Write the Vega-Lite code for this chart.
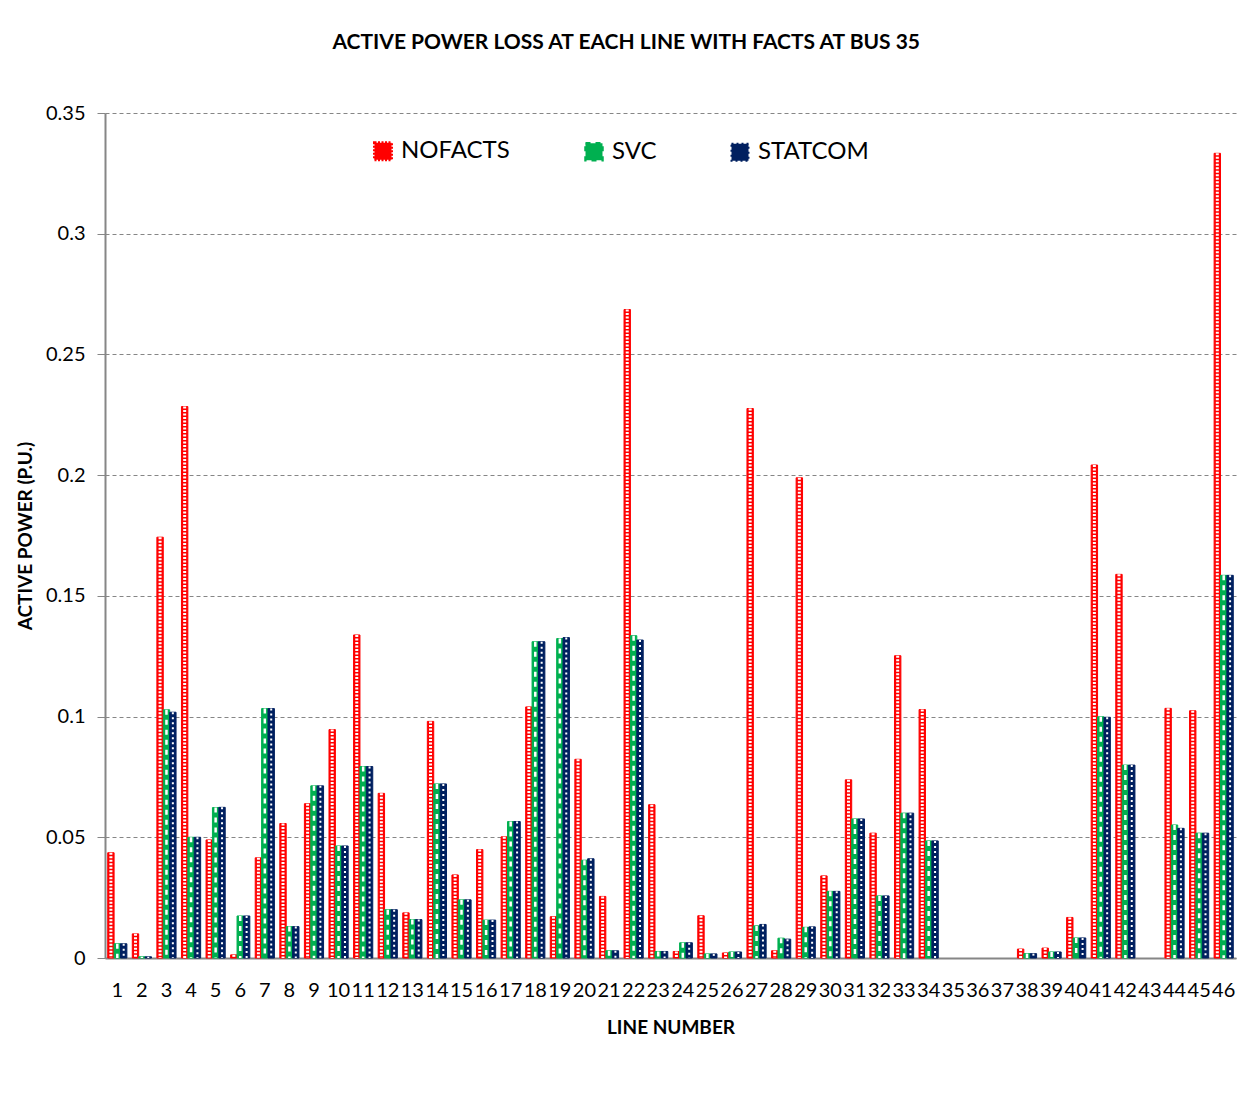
{
  "$schema": "https://vega.github.io/schema/vega-lite/v6.json",
  "width": 1131,
  "height": 845,
  "autosize": {"type": "none"},
  "padding": {"left": 105, "top": 113, "right": 17, "bottom": 146},
  "background": "white",
  "title": {
    "text": "ACTIVE POWER LOSS AT EACH LINE WITH FACTS AT BUS 35",
    "font": "Lato", "fontSize": 21, "fontWeight": "bold", "color": "#000000",
    "anchor": "middle", "frame": "bounds", "offset": 50
  },
  "config": {
    "view": {"stroke": null},
    "font": "Lato"
  },
  "data": {"values": [
    {"line":1,"series":"NOFACTS","value":0.0436},{"line":1,"series":"SVC","value":0.0059},{"line":1,"series":"STATCOM","value":0.0059},
    {"line":2,"series":"NOFACTS","value":0.0100},{"line":2,"series":"SVC","value":0.0005},{"line":2,"series":"STATCOM","value":0.0005},
    {"line":3,"series":"NOFACTS","value":0.1743},{"line":3,"series":"SVC","value":0.1028},{"line":3,"series":"STATCOM","value":0.1018},
    {"line":4,"series":"NOFACTS","value":0.2284},{"line":4,"series":"SVC","value":0.0500},{"line":4,"series":"STATCOM","value":0.0500},
    {"line":5,"series":"NOFACTS","value":0.0489},{"line":5,"series":"SVC","value":0.0623},{"line":5,"series":"STATCOM","value":0.0624},
    {"line":6,"series":"NOFACTS","value":0.0013},{"line":6,"series":"SVC","value":0.0174},{"line":6,"series":"STATCOM","value":0.0174},
    {"line":7,"series":"NOFACTS","value":0.0415},{"line":7,"series":"SVC","value":0.1033},{"line":7,"series":"STATCOM","value":0.1033},
    {"line":8,"series":"NOFACTS","value":0.0557},{"line":8,"series":"SVC","value":0.0130},{"line":8,"series":"STATCOM","value":0.0130},
    {"line":9,"series":"NOFACTS","value":0.0639},{"line":9,"series":"SVC","value":0.0713},{"line":9,"series":"STATCOM","value":0.0713},
    {"line":10,"series":"NOFACTS","value":0.0946},{"line":10,"series":"SVC","value":0.0464},{"line":10,"series":"STATCOM","value":0.0464},
    {"line":11,"series":"NOFACTS","value":0.1338},{"line":11,"series":"SVC","value":0.0793},{"line":11,"series":"STATCOM","value":0.0793},
    {"line":12,"series":"NOFACTS","value":0.0682},{"line":12,"series":"SVC","value":0.0200},{"line":12,"series":"STATCOM","value":0.0200},
    {"line":13,"series":"NOFACTS","value":0.0187},{"line":13,"series":"SVC","value":0.0159},{"line":13,"series":"STATCOM","value":0.0159},
    {"line":14,"series":"NOFACTS","value":0.0980},{"line":14,"series":"SVC","value":0.0721},{"line":14,"series":"STATCOM","value":0.0721},
    {"line":15,"series":"NOFACTS","value":0.0344},{"line":15,"series":"SVC","value":0.0241},{"line":15,"series":"STATCOM","value":0.0241},
    {"line":16,"series":"NOFACTS","value":0.0449},{"line":16,"series":"SVC","value":0.0157},{"line":16,"series":"STATCOM","value":0.0157},
    {"line":17,"series":"NOFACTS","value":0.0502},{"line":17,"series":"SVC","value":0.0565},{"line":17,"series":"STATCOM","value":0.0565},
    {"line":18,"series":"NOFACTS","value":0.1040},{"line":18,"series":"SVC","value":0.1310},{"line":18,"series":"STATCOM","value":0.1310},
    {"line":19,"series":"NOFACTS","value":0.0171},{"line":19,"series":"SVC","value":0.1323},{"line":19,"series":"STATCOM","value":0.1327},
    {"line":20,"series":"NOFACTS","value":0.0823},{"line":20,"series":"SVC","value":0.0405},{"line":20,"series":"STATCOM","value":0.0411},
    {"line":21,"series":"NOFACTS","value":0.0255},{"line":21,"series":"SVC","value":0.0030},{"line":21,"series":"STATCOM","value":0.0030},
    {"line":22,"series":"NOFACTS","value":0.2686},{"line":22,"series":"SVC","value":0.1335},{"line":22,"series":"STATCOM","value":0.1317},
    {"line":23,"series":"NOFACTS","value":0.0635},{"line":23,"series":"SVC","value":0.0027},{"line":23,"series":"STATCOM","value":0.0027},
    {"line":24,"series":"NOFACTS","value":0.0027},{"line":24,"series":"SVC","value":0.0063},{"line":24,"series":"STATCOM","value":0.0063},
    {"line":25,"series":"NOFACTS","value":0.0175},{"line":25,"series":"SVC","value":0.0017},{"line":25,"series":"STATCOM","value":0.0017},
    {"line":26,"series":"NOFACTS","value":0.0021},{"line":26,"series":"SVC","value":0.0025},{"line":26,"series":"STATCOM","value":0.0025},
    {"line":27,"series":"NOFACTS","value":0.2276},{"line":27,"series":"SVC","value":0.0133},{"line":27,"series":"STATCOM","value":0.0139},
    {"line":28,"series":"NOFACTS","value":0.0030},{"line":28,"series":"SVC","value":0.0082},{"line":28,"series":"STATCOM","value":0.0078},
    {"line":29,"series":"NOFACTS","value":0.1989},{"line":29,"series":"SVC","value":0.0127},{"line":29,"series":"STATCOM","value":0.0129},
    {"line":30,"series":"NOFACTS","value":0.0340},{"line":30,"series":"SVC","value":0.0276},{"line":30,"series":"STATCOM","value":0.0276},
    {"line":31,"series":"NOFACTS","value":0.0738},{"line":31,"series":"SVC","value":0.0576},{"line":31,"series":"STATCOM","value":0.0576},
    {"line":32,"series":"NOFACTS","value":0.0517},{"line":32,"series":"SVC","value":0.0257},{"line":32,"series":"STATCOM","value":0.0257},
    {"line":33,"series":"NOFACTS","value":0.1252},{"line":33,"series":"SVC","value":0.0600},{"line":33,"series":"STATCOM","value":0.0600},
    {"line":34,"series":"NOFACTS","value":0.1029},{"line":34,"series":"SVC","value":0.0485},{"line":34,"series":"STATCOM","value":0.0485},
    {"line":35,"series":"NOFACTS","value":0},{"line":35,"series":"SVC","value":0},{"line":35,"series":"STATCOM","value":0},
    {"line":36,"series":"NOFACTS","value":0},{"line":36,"series":"SVC","value":0},{"line":36,"series":"STATCOM","value":0},
    {"line":37,"series":"NOFACTS","value":0},{"line":37,"series":"SVC","value":0},{"line":37,"series":"STATCOM","value":0},
    {"line":38,"series":"NOFACTS","value":0.0037},{"line":38,"series":"SVC","value":0.0018},{"line":38,"series":"STATCOM","value":0.0018},
    {"line":39,"series":"NOFACTS","value":0.0041},{"line":39,"series":"SVC","value":0.0025},{"line":39,"series":"STATCOM","value":0.0025},
    {"line":40,"series":"NOFACTS","value":0.0168},{"line":40,"series":"SVC","value":0.0083},{"line":40,"series":"STATCOM","value":0.0083},
    {"line":41,"series":"NOFACTS","value":0.2042},{"line":41,"series":"SVC","value":0.0999},{"line":41,"series":"STATCOM","value":0.0997},
    {"line":42,"series":"NOFACTS","value":0.1589},{"line":42,"series":"SVC","value":0.0799},{"line":42,"series":"STATCOM","value":0.0799},
    {"line":43,"series":"NOFACTS","value":0},{"line":43,"series":"SVC","value":0},{"line":43,"series":"STATCOM","value":0},
    {"line":44,"series":"NOFACTS","value":0.1034},{"line":44,"series":"SVC","value":0.0551},{"line":44,"series":"STATCOM","value":0.0537},
    {"line":45,"series":"NOFACTS","value":0.1024},{"line":45,"series":"SVC","value":0.0517},{"line":45,"series":"STATCOM","value":0.0517},
    {"line":46,"series":"NOFACTS","value":0.3333},{"line":46,"series":"SVC","value":0.1585},{"line":46,"series":"STATCOM","value":0.1585}
  ]},
  "encoding": {
    "x": {
      "field": "line", "type": "ordinal", "sort": "ascending",
      "scale": {
        "domain": [1,2,3,4,5,6,7,8,9,10,11,12,13,14,15,16,17,18,19,20,21,22,23,24,25,26,27,28,29,30,31,32,33,34,35,36,37,38,39,40,41,42,43,44,45,46],
        "paddingInner": 0.22, "paddingOuter": 0.11
      },
      "axis": {
        "title": "LINE NUMBER", "titleFontSize": 19, "titleFontWeight": "bold", "titleColor": "#000000", "titlePadding": 18,
        "labelAngle": 0, "labelFontSize": 20, "labelColor": "#000000", "labelPadding": 22,
        "labelOverlap": false, "labelBound": false, "labelFlush": false,
        "ticks": false, "domainColor": "#868686", "domainWidth": 2
      }
    },
    "xOffset": {
      "field": "series", "type": "nominal",
      "scale": {"domain": ["NOFACTS", "SVC", "STATCOM"], "paddingInner": 0, "paddingOuter": 0}
    },
    "y": {
      "field": "value", "type": "quantitative",
      "scale": {"domain": [0, 0.35], "nice": false},
      "axis": {
        "title": "ACTIVE POWER (P.U.)", "titleFontSize": 19, "titleFontWeight": "bold", "titleColor": "#000000", "titlePadding": 10,
        "values": [0, 0.05, 0.1, 0.15, 0.2, 0.25, 0.3, 0.35], "format": "~g",
        "labelFontSize": 20, "labelColor": "#000000", "labelPadding": 12,
        "tickSize": 8, "tickColor": "#868686", "domainColor": "#868686", "domainWidth": 2,
        "grid": true, "gridColor": "#868686", "gridDash": [4, 3], "gridWidth": 1
      }
    }
  },
  "layer": [
    {
      "transform": [{"filter": "datum.value > 0"}],
      "mark": {"type": "bar", "strokeWidth": 1},
      "encoding": {
        "color": {
          "field": "series", "type": "nominal",
          "scale": {"domain": ["NOFACTS", "SVC", "STATCOM"], "range": ["#FF0000", "#00B050", "#002060"]},
          "legend": {
            "title": null, "orient": "none", "legendX": 266, "legendY": 26, "direction": "horizontal",
            "symbolType": "square", "symbolSize": 289, "symbolStrokeWidth": 0,
            "labelFontSize": 24, "labelColor": "#000000", "labelOffset": 6, "columnPadding": 70, "padding": 0
          }
        },
        "stroke": {
          "field": "series", "type": "nominal",
          "scale": {"domain": ["NOFACTS", "SVC", "STATCOM"], "range": ["#FF0000", "#00B050", "#002060"]},
          "legend": null
        }
      }
    },
    {
      "transform": [{"filter": "datum.value > 0"}],
      "mark": {"type": "rule", "color": "white"},
      "encoding": {
        "y2": {"datum": 0},
        "strokeDash": {
          "field": "series", "type": "nominal",
          "scale": {"domain": ["NOFACTS", "SVC", "STATCOM"], "range": [[2, 1.5], [5, 5], [2, 3]]},
          "legend": null
        },
        "strokeWidth": {
          "field": "series", "type": "nominal",
          "scale": {"domain": ["NOFACTS", "SVC", "STATCOM"], "range": [3, 2, 2]},
          "legend": null
        }
      }
    }
  ]
}
